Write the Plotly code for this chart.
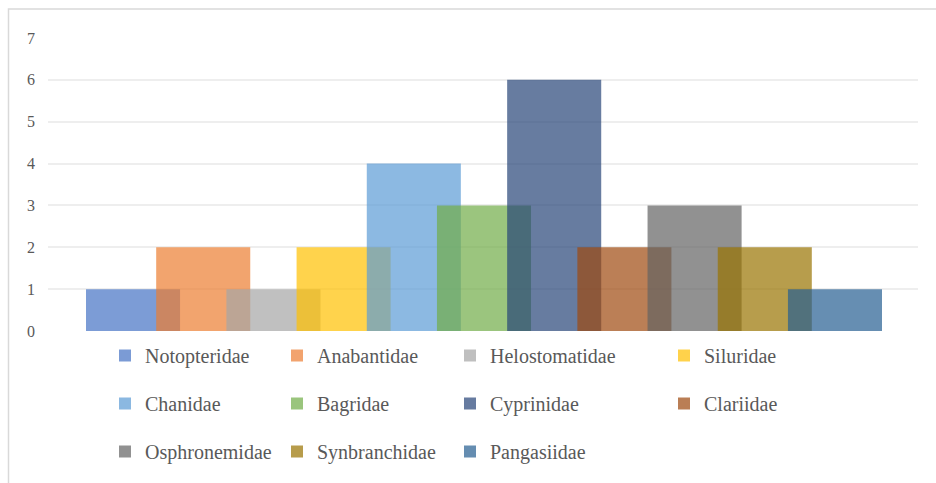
import plotly.graph_objects as go

families = ["Notopteridae", "Anabantidae", "Helostomatidae", "Siluridae",
            "Chanidae", "Bagridae", "Cyprinidae", "Clariidae",
            "Osphronemidae", "Synbranchidae", "Pangasiidae"]
counts = [1, 2, 1, 2, 4, 3, 6, 2, 3, 2, 1]
colors = ["#4472C4", "#ED7D31", "#A5A5A5", "#FFC000", "#5B9BD5", "#70AD47",
          "#264478", "#9E480E", "#636363", "#997300", "#255E91"]
y_ticks = [0, 1, 2, 3, 4, 5, 6, 7]

W, H = 936, 483
ML, MR, MT, MB = 48, 18, 38, 152
FONT = "Liberation Serif, Times New Roman, serif"
GREY = "#595959"

legend_names = ["legend", "legend2", "legend3", "legend4"]
col_text_x = [145, 317, 490, 704]   # pixel x where legend text starts
row0_center = 356

fig = go.Figure()
for i, (name, val, col) in enumerate(zip(families, counts, colors)):
    fig.add_trace(go.Bar(
        x=[i], y=[val], name=name, width=[1.34],
        marker=dict(color=col, line=dict(width=0)),
        opacity=0.7,
        legend=legend_names[i % 4],
        legendgroup=name,
        hoverinfo="name+y",
    ))

n = len(families)
step_px = (W - ML - MR - 38 - 36) / (n - 1 + 1.34)
span = (W - ML - MR) / step_px
x0 = -0.67 - 38 / step_px

legend_common = dict(
    orientation="v",
    xref="container", yref="container",
    xanchor="left", yanchor="top",
    font=dict(family=FONT, size=20, color=GREY),
    bgcolor="rgba(0,0,0,0)",
    borderwidth=0,
    tracegroupgap=19,
    itemclick=False, itemdoubleclick=False,
)
legends = {}
for k, ln in enumerate(legend_names):
    legends[ln] = dict(legend_common,
                       x=(col_text_x[k] - 40) / W,
                       y=1 - (row0_center - 20) / H)

# outer chart frame (light grey), in paper coordinates
pw, ph = W - ML - MR, H - MT - MB
fx0 = (8.5 - ML) / pw
fy1 = (H - MB - 9) / ph
fig.add_shape(type="rect", xref="paper", yref="paper",
              x0=fx0, x1=(W + 5 - ML) / pw, y0=-(MB + 10) / ph, y1=fy1,
              line=dict(color="#D9D9D9", width=1.5), fillcolor="rgba(0,0,0,0)",
              layer="below")

fig.update_layout(
    width=W, height=H,
    margin=dict(l=ML, r=MR, t=MT, b=MB, autoexpand=False),
    paper_bgcolor="white", plot_bgcolor="white",
    barmode="overlay",
    showlegend=True,
    xaxis=dict(range=[x0, x0 + span], showticklabels=False, showgrid=False,
               zeroline=False, showline=False, ticks="", fixedrange=True),
    yaxis=dict(range=[0, 7], tickvals=y_ticks, showgrid=True,
               gridcolor="#EEEEEE", gridwidth=1.5, zeroline=False,
               showline=False, ticks="", ticklabelstandoff=12,
               tickfont=dict(family=FONT, size=16, color=GREY),
               fixedrange=True),
    **legends,
)

fig.write_html("out.html")
